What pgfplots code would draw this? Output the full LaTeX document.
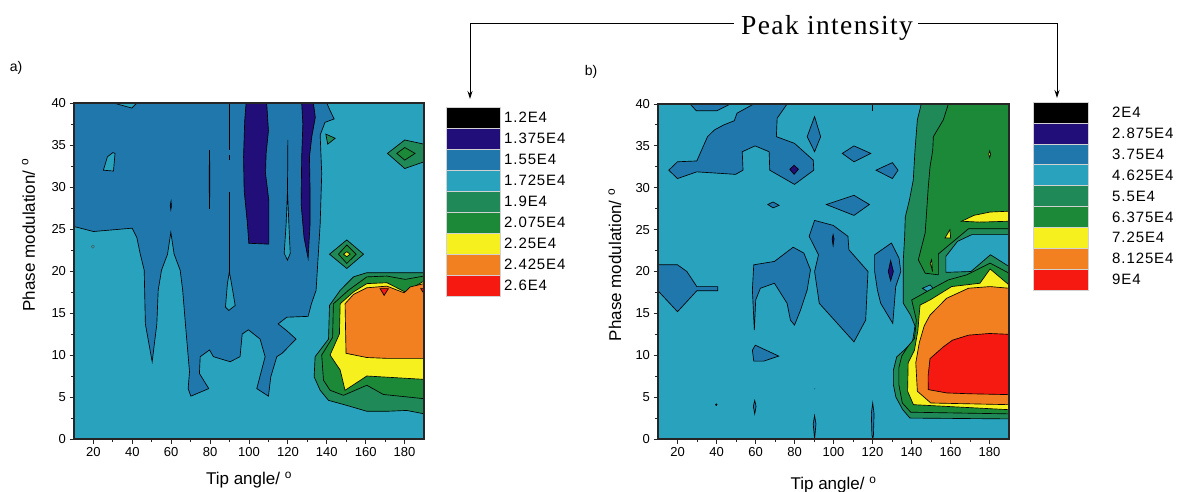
\documentclass[border=0pt]{standalone}
\usepackage{fontspec}
\setmainfont{Liberation Sans}
\newfontfamily\seriffont{Liberation Serif}[LetterSpace=5]
\newfontfamily\legfont{Liberation Sans}[LetterSpace=6]
\usepackage{pgfplots}
\pgfplotsset{compat=1.18}
\usetikzlibrary{arrows.meta}
\definecolor{cA}{RGB}{0,0,0}
\definecolor{cB}{RGB}{33,14,120}
\definecolor{cC}{RGB}{31,119,172}
\definecolor{cD}{RGB}{41,162,190}
\definecolor{cE}{RGB}{31,138,88}
\definecolor{cF}{RGB}{27,137,56}
\definecolor{cG}{RGB}{245,240,30}
\definecolor{cH}{RGB}{242,128,32}
\definecolor{cI}{RGB}{245,25,17}
\pgfplotsset{
  ct/.style={draw=black, line width=0.65pt, mark=none, fill=#1},
  cmapaxis/.style={
    anchor=south west, scale only axis,
    xmin=10, xmax=190, ymin=0, ymax=40,
    xtick={20,40,...,180}, ytick={0,5,...,40},
    minor x tick num=1, minor y tick num=1,
    tick align=outside, tick pos=left, axis on top,
    axis background/.style={fill=cD},
    axis line style={line width=1.1pt, black!85},
    major tick length=4.5pt, minor tick length=3pt,
    every tick/.style={black!85, line width=0.9pt},
    tick label style={font=\fontsize{13}{15}\selectfont},
    label style={font=\fontsize{17}{20}\selectfont},
    /pgf/number format/assume math mode=true,
  },
  legaxis/.style={
    anchor=south west, scale only axis, xmin=0, xmax=1, ymin=0, ymax=9,
    hide axis, clip=false,
  },
  lb/.style={draw=gray!35, line width=0.5pt, mark=none, fill=#1},
}
\begin{document}
\begin{tikzpicture}
\path[use as bounding box] (0pt,0pt) rectangle (1181pt,491pt);
% ---------- plot a ----------
\begin{axis}[cmapaxis, at={(74pt,52pt)}, width=350pt, height=336pt,
  xlabel={Tip angle/ \textsuperscript{o}}, ylabel={Phase modulation/ \textsuperscript{o}},
  xlabel style={at={(axis description cs:0.5,-0.122)}, anchor=center},
  ylabel style={at={(axis description cs:-0.13,0.607)}, anchor=center}]
\addplot[ct=cC] coordinates {(10,40)(140,40)(141.7,39.1)(143.8,38.1)(139.1,37.7)(136.6,36.2)(137.4,31.6)(136.6,25.6)(134.5,17.7)(132.1,16.1)(130.4,14.6)(119.4,14.5)(115,13.7)(119.4,12.9)(124.2,11.9)(117,10.2)(114.3,9.8)(111.2,7.4)(110,5.1)(104,6)(108.3,9.8)(105.7,11.9)(99.7,13)(96.5,12.5)(95.4,9.8)(90.3,9.2)(81.7,9.8)(79.7,10.6)(74.9,9.8)(74.5,7.8)(79.3,6)(70.1,5.1)(68.7,6)(69.4,8)(67.3,13.7)(65.9,17.7)(64.6,20.1)(61.5,22)(59.8,24.6)(58.1,22)(55,20.1)(53.3,17.7)(52.6,13.7)(50.2,9.2)(46.7,13.7)(46.1,20.1)(44,22.1)(42.3,24)(39.9,25.1)(20,24.7)(10,25.3)} -- cycle;
\addplot[ct=cD] coordinates {(30.3,40)(39.7,39.4)(42.3,40)} -- cycle;
\addplot[ct=cD] coordinates {(25.1,32)(27.2,33.6)(30,34.1)(31.1,34)(30.3,31.9)} -- cycle;
\addplot[ct=cD] coordinates {(87.9,15.7)(89.6,15.3)(92.9,15.9)(91,18.5)(89.9,19.9)(88.9,18.5)} -- cycle;
\addplot[ct=cD] coordinates {(118.1,22.1)(119.1,25.6)(119.8,29.6)(120.5,25.6)(121.2,22.1)(119.8,21.3)} -- cycle;
\addplot[ct=cB] coordinates {(98.5,40)(109.1,40)(110,36.7)(108.8,34)(108.5,31.6)(110.2,28.4)(110.2,23.2)(99.9,23.3)(99.2,25.6)(97.5,29.6)(97.2,33.6)(97.8,37.9)} -- cycle;
\addplot[ct=cB] coordinates {(127.1,40)(133.1,40)(134.1,38.3)(132.3,36)(131.1,33.6)(131.4,29.6)(131.4,25.6)(130.4,21.5)(128.3,24)(126.8,28)(127.1,33.6)(127.7,37.5)} -- cycle;
\addplot[ct=cB] coordinates {(79.5,31)(79.7,34.4)(79.9,31)(79.7,27.4)} -- cycle;
\addplot[ct=cB] coordinates {(59.5,27.8)(59.9,28.3)(60.1,27.7)(59.8,27.3)} -- cycle;
\addplot[black, line width=0.9pt, mark=none] coordinates {(89.9,40)(89.9,34.4)};
\addplot[black, line width=0.9pt, mark=none] coordinates {(89.9,33.8)(89.9,33.2)};
\addplot[black, line width=0.9pt, mark=none] coordinates {(89.9,29.4)(89.9,19.9)};
\addplot[black, line width=0.7pt, mark=none] coordinates {(120,35.6)(119.8,29.6)};
\addplot[only marks, mark=o, mark size=1.6pt, black!70] coordinates {(19.7,22.9)};
\addplot[ct=cE] coordinates {(139.5,36.3)(144.3,35.8)(140.5,35.1)} -- cycle;
\addplot[ct=cE] coordinates {(171.2,34)(180.1,35.6)(190,35.1)(190,33)(180.1,32.2)} -- cycle;
\addplot[ct=cF] coordinates {(176,34)(180.1,34.7)(185.4,34)(180.1,33.2)} -- cycle;
\addplot[ct=cE] coordinates {(141.4,22)(150.3,23.7)(158.9,22)(150.3,20.3)} -- cycle;
\addplot[ct=cF] coordinates {(146,22)(150.3,23.1)(155.1,22)(150.3,20.9)} -- cycle;
\addplot[ct=cG] coordinates {(148.6,22)(150.3,22.3)(152,22)(150.3,21.7)} -- cycle;
\addplot[ct=cE] coordinates {(190,19.8)(160.6,19.8)(153.7,19.3)(146.9,17.7)(141.4,15.9)(140.9,11.9)(134,9.8)(133.5,7.4)(136.6,5.8)(140.9,4.6)(150.3,4)(160.6,3.3)(170.9,3.3)(181.1,3.4)(190,3)} -- cycle;
\addplot[ct=cF] coordinates {(190,19.4)(180.3,19)(170.9,19.4)(160.6,19.3)(151.1,17.7)(143.4,16.1)(143,12.1)(137.4,10)(138.3,7)(141.7,5.8)(148.6,5.2)(160.6,6.4)(169.1,5.3)(190,4.8)} -- cycle;
\addplot[ct=cG] coordinates {(190,18.8)(180.3,17.5)(170.9,18.6)(160.6,18.5)(153.7,17.5)(146.9,16.1)(146.5,12.5)(141.7,10)(146.9,8.2)(149.4,5.8)(160.6,7.5)(190,7.1)} -- cycle;
\addplot[ct=cH] coordinates {(149.4,16.1)(153.7,17.2)(160.6,18)(170.9,18.2)(179.8,17.4)(182.9,18.1)(190,18.5)(190,9.6)(170.9,9.6)(160.6,9.7)(149.9,10.2)} -- cycle;
\addplot[ct=cI] coordinates {(167.4,17.9)(171.7,17.9)(169.5,17.1)} -- cycle;
\addplot[ct=cI] coordinates {(188.3,17.9)(190,17.9)(190,17.3)} -- cycle;
\end{axis}
% ---------- legend a ----------
\begin{axis}[legaxis, at={(446pt,195pt)}, width=54pt, height=189pt]
\addplot[lb=cA] coordinates {(0,8)(1,8)(1,9)(0,9)} -- cycle;
\addplot[lb=cB] coordinates {(0,7)(1,7)(1,8)(0,8)} -- cycle;
\addplot[lb=cC] coordinates {(0,6)(1,6)(1,7)(0,7)} -- cycle;
\addplot[lb=cD] coordinates {(0,5)(1,5)(1,6)(0,6)} -- cycle;
\addplot[lb=cE] coordinates {(0,4)(1,4)(1,5)(0,5)} -- cycle;
\addplot[lb=cF] coordinates {(0,3)(1,3)(1,4)(0,4)} -- cycle;
\addplot[lb=cG] coordinates {(0,2)(1,2)(1,3)(0,3)} -- cycle;
\addplot[lb=cH] coordinates {(0,1)(1,1)(1,2)(0,2)} -- cycle;
\addplot[lb=cI] coordinates {(0,0)(1,0)(1,1)(0,1)} -- cycle;
\begin{scope}[every node/.style={anchor=west, xshift=4pt, font=\legfont\fontsize{15}{17}\selectfont, inner sep=0pt}]
\node at (axis cs:1,8.5) {1.2E4};
\node at (axis cs:1,7.5) {1.375E4};
\node at (axis cs:1,6.5) {1.55E4};
\node at (axis cs:1,5.5) {1.725E4};
\node at (axis cs:1,4.5) {1.9E4};
\node at (axis cs:1,3.5) {2.075E4};
\node at (axis cs:1,2.5) {2.25E4};
\node at (axis cs:1,1.5) {2.425E4};
\node at (axis cs:1,0.5) {2.6E4};
\end{scope}
\end{axis}
% ---------- plot b ----------
\begin{axis}[cmapaxis, at={(658pt,52pt)}, width=351pt, height=335pt,
  xlabel={Tip angle/ \textsuperscript{o}}, ylabel={Phase modulation/ \textsuperscript{o}},
  xlabel style={at={(axis description cs:0.5,-0.137)}, anchor=center},
  ylabel style={at={(axis description cs:-0.123,0.52)}, anchor=center}]
\addplot[ct=cC] coordinates {(26.5,40)(47.1,40)(40.2,39.2)(29.6,39.2)} -- cycle;
\addplot[ct=cC] coordinates {(15.5,32.1)(20,33.1)(29.9,33.2)(35.4,36.1)(38.9,36.9)(43.7,37.5)(49.1,38)(50.5,38.9)(59.1,40)(76.2,40)(71.1,38.3)(70.7,36.1)(80,35.3)(89.6,33.3)(89.9,32.1)(80,30.4)(67.3,32.1)(67,34.3)(59.8,35)(53.2,34.3)(53.6,32.1)(49.8,31.6)(29.9,31.9)(20,31.1)} -- cycle;
\addplot[ct=cB] coordinates {(77.6,32.2)(79.8,32.7)(82,32.2)(79.8,31.6)} -- cycle;
\addplot[ct=cC] coordinates {(86.5,36.1)(90.3,38.5)(93.4,36.1)(90.3,34.3)} -- cycle;
\addplot[ct=cC] coordinates {(104.5,34.1)(110.5,35)(119.1,34.1)(110.5,33.1)} -- cycle;
\addplot[ct=cC] coordinates {(121.8,32.1)(130.2,33)(133.1,32.1)(130.2,31.1)} -- cycle;
\addplot[ct=cC] coordinates {(96.3,28)(110.5,29.1)(118.4,28)(110.5,26.7)} -- cycle;
\addplot[ct=cC] coordinates {(66.3,28)(69,28.3)(72.1,27.9)(69,27.6)} -- cycle;
\addplot[ct=cC] coordinates {(87.5,24.2)(90.3,26.1)(99.9,25.5)(107.4,24.2)(107.9,22.6)(117.7,20)(117.3,18.2)(116.5,14.2)(110.5,11.6)(92.7,16.2)(90.3,20)(92.3,22)} -- cycle;
\addplot[ct=cB] coordinates {(99.3,23.9)(99.8,24.4)(100.3,23.9)(99.8,23.1)} -- cycle;
\addplot[ct=cC] coordinates {(59.1,20.8)(69.7,21.2)(79.3,22.9)(84.8,22.2)(88.2,20.2)(86.5,17.8)(83.1,15.4)(80,13.6)(77.9,14.2)(76.2,16.2)(69.7,18.6)(62.5,18)(60.1,16.6)(59.4,13)(58.4,17.8)} -- cycle;
\addplot[ct=cC] coordinates {(121.1,22)(129.7,23.4)(133.6,21.6)(134.5,20)(131.9,18.2)(130.4,13.8)(124.2,16.2)(122.5,17.8)(121.1,20)} -- cycle;
\addplot[ct=cB] coordinates {(128.1,20)(129.3,21.3)(130.7,20)(129.3,18.9)} -- cycle;
\addplot[ct=cC] coordinates {(10,20.8)(20,20.8)(24.8,20)(29.9,18.2)(40.6,18.2)(40.6,17.7)(29.9,17.7)(20,15.2)(10,17.7)} -- cycle;
\addplot[ct=cC] coordinates {(58.4,10.6)(59.9,11.2)(71.9,9.9)(64.2,9.3)(59.1,9.3)} -- cycle;
\addplot[ct=cC] coordinates {(58.9,3.9)(59.6,4.6)(60.3,3.9)(59.6,3.0)} -- cycle;
\addplot[ct=cC] coordinates {(89.6,1.8)(90.3,2.8)(91,1.8)(90.3,0)} -- cycle;
\addplot[ct=cC] coordinates {(119.4,3)(120.1,4.3)(120.8,3)(120.5,0.5)(120.1,0)(119.7,0.5)} -- cycle;
\addplot[only marks, mark=*, mark size=0.9pt, black] coordinates {(39.9,4.1)};
\addplot[only marks, mark=*, mark size=0.5pt, cC] coordinates {(90.3,6)};
\addplot[black, line width=1.2pt, mark=none] coordinates {(120,40)(120,39.2)};
% green / warm side
\addplot[ct=cE] coordinates {(145,40)(190,40)(190,2.4)(139.2,2.5)(135.5,3.5)(132,5)(130.7,6.5)(130.7,8.2)(132.4,9.8)(136.2,10.6)(140.5,11.6)(141.8,13.5)(139.5,14.8)(135.8,16.2)(135.8,21.4)(136.5,24.2)(136.8,26.5)(138.9,28.5)(140.9,30.9)(141.8,34.5)(143,38.1)} -- cycle;
\addplot[ct=cF] coordinates {(158.9,40)(190,40)(190,25.1)(169.2,25.1)(153.8,22.1)(153.8,19.6)(147,19.8)(143.5,21.4)(147,24.6)(147.8,27.3)(148.6,30.1)(149.5,32.5)(150.9,34.5)(151.2,36.1)(156.3,38.1)} -- cycle;
\addplot[ct=cD] coordinates {(157.6,19.9)(157.6,21.8)(163.6,23.6)(170.9,24.4)(190,24.4)(190,20.6)(180.5,22)(170.5,20)} -- cycle;
\addplot[ct=cD] coordinates {(145.6,18)(149.6,18.4)(151.6,17.8)(148.2,17.6)} -- cycle;
\addplot[ct=cG] coordinates {(165.7,26)(172,26.7)(180.3,27.1)(190,27.2)(190,26)(175,25.9)} -- cycle;
\addplot[ct=cG] coordinates {(157.2,24)(159.7,25)(160.1,24)} -- cycle;
\addplot[ct=cG] coordinates {(149.6,21)(150.3,21.4)(150.8,20)} -- cycle;
\addplot[ct=cG] coordinates {(179.6,34)(180.1,34.4)(180.6,34)(180.1,33.6)} -- cycle;
\addplot[ct=cF] coordinates {(140.1,16.6)(147.8,17.6)(158.9,19)(168.3,19.6)(180.3,21)(190,19.8)(190,3)(139.6,3.2)(135.3,4.3)(133.5,6.5)(133.5,8.5)(135,9.9)(138,11)(141.5,12)(142.5,14.2)} -- cycle;
\addplot[ct=cG] coordinates {(144.4,16)(149.5,16.6)(160.6,18.2)(175.1,18.6)(180.3,20.3)(190,18.4)(190,3.5)(141,4.1)(138,5.7)(138.3,9.1)(141.5,10.6)(143.3,13)(144,15)} -- cycle;
\addplot[ct=cH] coordinates {(149.5,14.8)(158,16.8)(169.2,18)(180.3,18.2)(190,18)(190,4.1)(149.9,4.3)(143,5.7)(142.2,9.1)(144,11.5)(146.5,13.5)} -- cycle;
\addplot[ct=cI] coordinates {(148.5,7.5)(149.5,9.6)(156.3,11)(161,11.8)(169.2,12.4)(180,12.6)(190,12.5)(190,5.3)(170,5.4)(158,5.5)(148.6,5.9)} -- cycle;
\end{axis}
% ---------- legend b ----------
\begin{axis}[legaxis, at={(1033pt,201pt)}, width=55pt, height=188pt]
\addplot[lb=cA] coordinates {(0,8)(1,8)(1,9)(0,9)} -- cycle;
\addplot[lb=cB] coordinates {(0,7)(1,7)(1,8)(0,8)} -- cycle;
\addplot[lb=cC] coordinates {(0,6)(1,6)(1,7)(0,7)} -- cycle;
\addplot[lb=cD] coordinates {(0,5)(1,5)(1,6)(0,6)} -- cycle;
\addplot[lb=cE] coordinates {(0,4)(1,4)(1,5)(0,5)} -- cycle;
\addplot[lb=cF] coordinates {(0,3)(1,3)(1,4)(0,4)} -- cycle;
\addplot[lb=cG] coordinates {(0,2)(1,2)(1,3)(0,3)} -- cycle;
\addplot[lb=cH] coordinates {(0,1)(1,1)(1,2)(0,2)} -- cycle;
\addplot[lb=cI] coordinates {(0,0)(1,0)(1,1)(0,1)} -- cycle;
\begin{scope}[every node/.style={anchor=west, xshift=24pt, font=\legfont\fontsize{15}{17}\selectfont, inner sep=0pt}]
\node at (axis cs:1,8.5) {2E4};
\node at (axis cs:1,7.5) {2.875E4};
\node at (axis cs:1,6.5) {3.75E4};
\node at (axis cs:1,5.5) {4.625E4};
\node at (axis cs:1,4.5) {5.5E4};
\node at (axis cs:1,3.5) {6.375E4};
\node at (axis cs:1,2.5) {7.25E4};
\node at (axis cs:1,1.5) {8.125E4};
\node at (axis cs:1,0.5) {9E4};
\end{scope}
\end{axis}
% ---------- annotations ----------
\node[font=\fontsize{14}{16}\selectfont, anchor=center] at (16pt,423pt) {a)};
\node[font=\fontsize{14}{16}\selectfont, anchor=center] at (591pt,419pt) {b)};
\node[font=\seriffont\fontsize{27.5}{30}\selectfont, anchor=center, inner sep=0pt] at (827pt,463pt) {Peak intensity};
\draw[line width=0.9pt, -{Stealth[length=8pt,width=5pt]}] (734pt,468pt) -- (470pt,468pt) -- (470pt,392pt);
\draw[line width=0.9pt, -{Stealth[length=8pt,width=5pt]}] (918pt,468pt) -- (1057pt,468pt) -- (1057pt,393pt);
\end{tikzpicture}
\end{document}
